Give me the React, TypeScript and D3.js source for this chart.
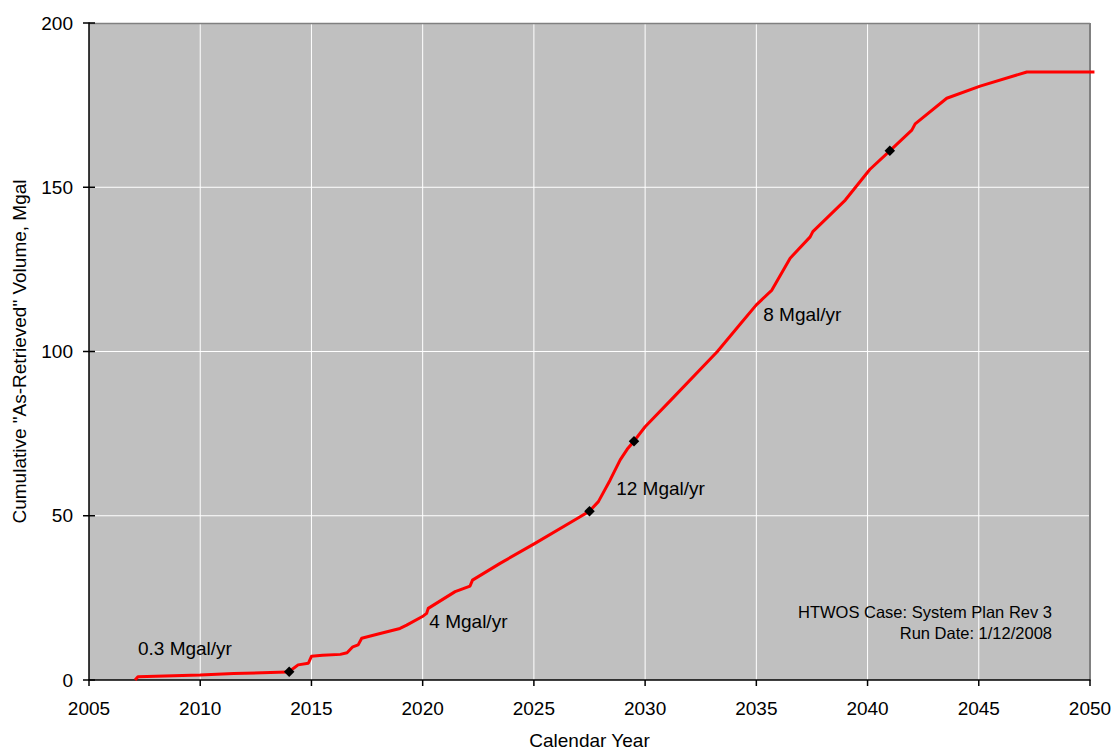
import React from "react";
import * as d3 from "d3";

const lineYears = [2007.07, 2007.2, 2010.0, 2011.5, 2013.9, 2014.0, 2014.2, 2014.4, 2014.86, 2015.0, 2015.5, 2016.3, 2016.6, 2016.86, 2017.1, 2017.26, 2018.0, 2018.98, 2019.28, 2020.03, 2020.18, 2020.25, 2021.46, 2022.13, 2022.24, 2023.48, 2025.05, 2027.08, 2027.5, 2027.9, 2028.43, 2028.88, 2029.2, 2029.5, 2030.0, 2031.2, 2033.25, 2034.27, 2035.0, 2035.7, 2036.52, 2037.42, 2037.54, 2039.0, 2040.1, 2041.0, 2041.99, 2042.14, 2043.56, 2045.06, 2047.16, 2050.2];
const lineVolumes = [0.0, 1.0, 1.5, 2.0, 2.4, 2.5, 3.6, 4.6, 5.1, 7.2, 7.5, 7.8, 8.3, 10.1, 10.7, 12.7, 14.0, 15.7, 16.7, 19.5, 20.3, 21.8, 26.9, 28.6, 30.4, 35.5, 41.6, 49.7, 51.4, 54.3, 60.9, 67.0, 70.3, 72.7, 77.1, 85.5, 100.0, 108.3, 114.2, 118.7, 128.4, 134.9, 136.5, 146.1, 155.4, 161.1, 167.4, 169.3, 177.1, 180.8, 185.1, 185.1];

const markerYears = [2014.0, 2027.5, 2029.5, 2041.0];
const markerVolumes = [2.5, 51.4, 72.7, 161.1];

const xTicks = [2005, 2010, 2015, 2020, 2025, 2030, 2035, 2040, 2045, 2050];
const yTicks = [0, 50, 100, 150, 200];

const rateLabels = ["0.3 Mgal/yr", "4 Mgal/yr", "12 Mgal/yr", "8 Mgal/yr"];
const rateLabelYears = [2007.2, 2020.3, 2028.7, 2035.31];
const rateLabelVolumes = [7.6, 15.8, 56.3, 109.4];

const noteLines = ["HTWOS Case: System Plan Rev 3", "Run Date: 1/12/2008"];

export default function App() {
  const W = 1114, H = 751;
  const left = 89, right = 1090, top = 23, bottom = 680;
  const x = d3.scaleLinear().domain([2005, 2050]).range([left, right]);
  const y = d3.scaleLinear().domain([0, 200]).range([bottom, top]);
  const pts: [number, number][] = lineYears.map((yr, i) => [yr, lineVolumes[i]]);
  const line = d3.line<[number, number]>().x(d => x(d[0])).y(d => y(d[1])).curve(d3.curveLinear);
  const font = "Arial, 'Liberation Sans', sans-serif";
  const fs = 19;
  const diamond = d3.symbol().type(d3.symbolDiamond2).size(70)();

  return (
    <svg width={W} height={H} style={{ position: "absolute", left: 0, top: 0, display: "block" }} fontFamily={font}>
      <rect x={0} y={0} width={W} height={H} fill="#ffffff" />
      <rect x={left} y={top} width={right - left} height={bottom - top} fill="#c0c0c0" />
      {xTicks.slice(1, -1).map(t => (
        <line key={"gx" + t} x1={x(t)} x2={x(t)} y1={top} y2={bottom} stroke="#ffffff" strokeWidth={1} />
      ))}
      {yTicks.slice(1, -1).map(t => (
        <line key={"gy" + t} x1={left} x2={right} y1={y(t)} y2={y(t)} stroke="#ffffff" strokeWidth={1} />
      ))}
      <line x1={left} x2={right} y1={top + 0.5} y2={top + 0.5} stroke="#808080" strokeWidth={1.5} />
      <line x1={right} x2={right} y1={top} y2={bottom} stroke="#808080" strokeWidth={2} />
      <line x1={left} x2={left} y1={top - 0.5} y2={bottom} stroke="#000000" strokeWidth={1.5} />
      <line x1={left - 0.5} x2={right + 0.5} y1={bottom} y2={bottom} stroke="#000000" strokeWidth={1.5} />
      {xTicks.map(t => (
        <g key={"xt" + t}>
          <line x1={x(t)} x2={x(t)} y1={bottom} y2={bottom + 6} stroke="#000" strokeWidth={1.5} />
          <text x={x(t)} y={715} textAnchor="middle" fontSize={fs} fill="#000">{t}</text>
        </g>
      ))}
      {yTicks.map(t => (
        <g key={"yt" + t}>
          <line x1={left - 6} x2={left + 6} y1={y(t)} y2={y(t)} stroke="#000" strokeWidth={1.5} />
          <text x={73} y={y(t)} dy="0.35em" textAnchor="end" fontSize={fs} fill="#000">{t}</text>
        </g>
      ))}
      <path d={line(pts) || ""} fill="none" stroke="#ff0000" strokeWidth={3} strokeLinejoin="round" />
      {markerYears.map((yr, i) => (
        <path key={"m" + i} d={diamond || ""} transform={`translate(${x(yr)},${y(markerVolumes[i])})`} fill="#000" />
      ))}
      {rateLabels.map((s, i) => (
        <text key={"rl" + i} x={x(rateLabelYears[i])} y={y(rateLabelVolumes[i])} fontSize={fs} fill="#000">{s}</text>
      ))}
      {noteLines.map((s, i) => (
        <text key={"n" + i} x={1052} y={618 + i * 21} textAnchor="end" fontSize={16.5} fill="#000">{s}</text>
      ))}
      <text x={(left + right) / 2} y={747} textAnchor="middle" fontSize={fs} fill="#000">Calendar Year</text>
      <text transform={`translate(26,${(top + bottom) / 2}) rotate(-90)`} textAnchor="middle" fontSize={fs} fill="#000">Cumulative "As-Retrieved" Volume, Mgal</text>
    </svg>
  );
}
